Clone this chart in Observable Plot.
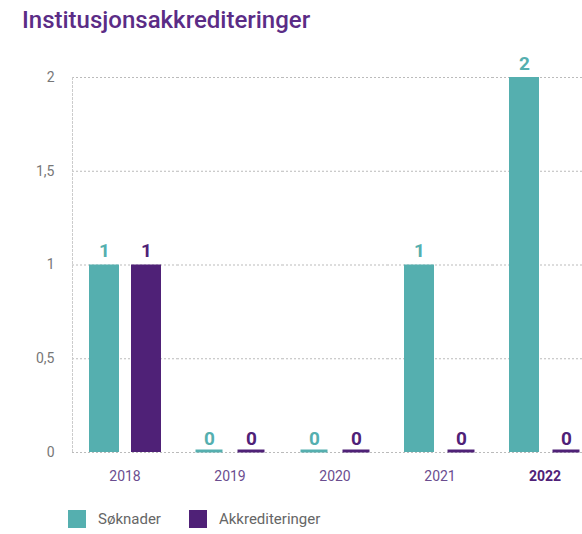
<!DOCTYPE html>
<html><head><meta charset="utf-8">
<script src="https://cdn.jsdelivr.net/npm/d3@7"></script>
<script src="https://cdn.jsdelivr.net/npm/@observablehq/plot@0.6"></script>
<style>
body{margin:0;overflow:hidden;width:582px;height:534px;font-family:Roboto,sans-serif;background:#fff}
#title{height:45px;margin:0;padding-left:22px;font-size:24px;font-weight:500;color:#5b2c86;line-height:40px;white-space:nowrap}
#chart{height:447px;overflow:visible}
#legend{margin-top:18px;padding-left:68px;display:flex;align-items:center;font-size:15px;color:#666}
#legend .sw{width:18px;height:18px;margin-right:12px}
#legend .lab{margin-right:28px}
</style></head>
<body>
<div id="title">Institusjonsakkrediteringer</div>
<div id="chart"></div>
<div id="legend"></div>
<script>
const years = ["2018","2019","2020","2021","2022"];
const series = ["Søknader","Akkrediteringer"];
const soknader = [1,0,0,1,2];
const akkrediteringer = [1,0,0,0,0];
const yTicks = [0,0.5,1,1.5,2];
const colors = ["#55afaf","#4f2177"];
const highlightYear = "2022";

const data = [];
years.forEach((y,i)=>{
  data.push({year:y, series:series[0], value:soknader[i]});
  data.push({year:y, series:series[1], value:akkrediteringer[i]});
});
const fmt = d => String(d).replace(".", ",");

const plot = Plot.plot({
  width: 600,
  height: 447,
  marginLeft: 72,
  marginRight: 3,
  marginTop: 32,
  marginBottom: 40,
  style: {fontFamily: "Roboto, sans-serif", overflow: "visible", maxWidth: "none"},
  fx: {domain: years, padding: 0, label: null},
  x: {domain: series, paddingInner: 0.286, paddingOuter: 0.393, axis: null},
  y: {domain: [0,2], label: null},
  color: {domain: series, range: colors},
  marks: [
    Plot.gridY(yTicks, {stroke: "#bbb", strokeOpacity: 1, strokeDasharray: "2,2"}),
    Plot.frame({anchor: "left", facetAnchor: "left", stroke: "#ccc", strokeDasharray: "2,2"}),
    Plot.axisY(yTicks, {tickSize: 0, tickPadding: 18, tickFormat: fmt, fill: "#777", fontSize: 14, label: null}),
    Plot.axisFx({anchor: "bottom", tickSize: 0, tickPadding: 19, fontSize: 14, fill: "#6b4d8f", label: null, tickFormat: d => d === highlightYear ? "" : d}),
    Plot.axisFx({anchor: "bottom", tickSize: 0, tickPadding: 19, fontSize: 14, fontWeight: "bold", fill: "#4f2177", label: null, tickFormat: d => d === highlightYear ? d : ""}),
    Plot.barY(data, {fx: "year", x: "series", y: "value", fill: "series"}),
    Plot.tickY(data.filter(d => d.value === 0), {fx: "year", x: "series", y: "value", stroke: "series", strokeWidth: 3, dy: -1.5, inset: 1.5}),
    Plot.text(data, {fx: "year", x: "series", y: "value", text: d => fmt(d.value), fill: "series", dy: -8, lineAnchor: "bottom", fontSize: 19, fontWeight: "bold"})
  ]
});
document.getElementById("chart").append(plot);

const legend = document.getElementById("legend");
series.forEach((s,i)=>{
  const sw = document.createElement("div"); sw.className="sw"; sw.style.background = colors[i];
  const lab = document.createElement("div"); lab.className="lab"; lab.textContent = s;
  legend.append(sw, lab);
});
</script>
</body></html>
